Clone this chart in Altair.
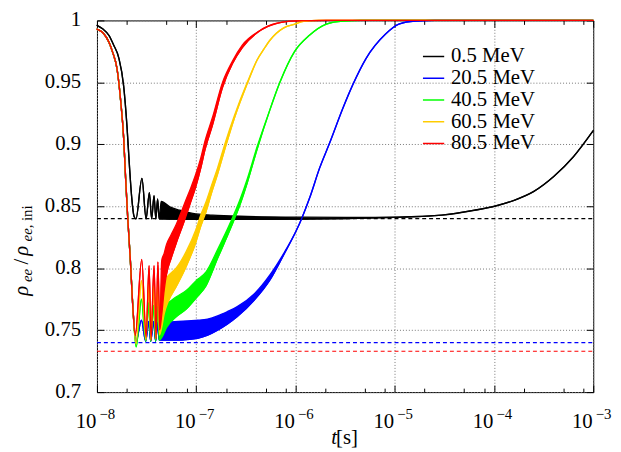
import altair as alt
import pandas as pd

W, H = 502, 376
FONT = "'Liberation Serif'"

series_names = ["0.5 MeV", "20.5 MeV", "40.5 MeV", "60.5 MeV", "80.5 MeV"]
series_colors = ["#000000", "#0000ff", "#00ff00", "#ffcc00", "#ff0000"]

# log10(t) positions, lower / upper envelope of the (fast-oscillating) curves
black_logt = [-8.0, -7.940, -7.880, -7.831, -7.781, -7.731, -7.698, -7.674, -7.651, -7.627,
              -7.607, -7.547, -7.505, -7.472, -7.449, -7.425, -7.407, -7.389, -7.373,
              -7.353, -7.266, -7.166, -7.034, -6.835, -6.486, -5.988, -5.490,
              -5.009, -4.527, -4.195, -3.996, -3.797, -3.598, -3.398, -3.199, -3.0]
black_lo = [0.996, 0.993, 0.988, 0.980, 0.970, 0.947, 0.915, 0.884, 0.858, 0.842,
            0.8398, 0.8725, 0.8398, 0.861, 0.8398, 0.8585, 0.8398, 0.856, 0.8398,
            0.8398, 0.8397, 0.8396, 0.8395, 0.8395, 0.8394, 0.8396, 0.8401,
            0.8411, 0.8428, 0.8468, 0.850, 0.8548, 0.862, 0.874, 0.890, 0.911]
black_hi = [None] * 19 + [0.854, 0.8495, 0.8468, 0.8442, 0.8428, 0.8418, 0.8412, 0.8410] + [None] * 9

descent_logt = [-8.0, -7.940, -7.880, -7.841, -7.798, -7.761, -7.731, -7.711, -7.691, -7.664, -7.638]
descent_val = [0.993, 0.990, 0.9825, 0.974, 0.961, 0.935, 0.905, 0.872, 0.842, 0.807, 0.768]

blue_logt = descent_logt + [-7.6066, -7.552, -7.509, -7.479, -7.459, -7.429, -7.409, -7.389, -7.373,
                            -7.348, -7.283, -7.183, -7.084, -6.984, -6.885, -6.785, -6.685, -6.586,
                            -6.419, -6.254, -6.118, -5.988, -5.938, -5.856, -5.756, -5.656, -5.523,
                            -5.423, -5.291, -5.092, -4.959, -4.793, -4.594, -3.0]
blue_lo = descent_val + [0.741, 0.758, 0.741, 0.757, 0.741, 0.757, 0.741, 0.756, 0.742,
                         0.742, 0.742, 0.742, 0.7425, 0.7435, 0.746, 0.750, 0.755, 0.761,
                         0.774, 0.791, 0.811, 0.831, 0.840, 0.857, 0.881, 0.901, 0.929,
                         0.948, 0.969, 0.989, 0.997, 0.9995, 1.0, 1.0]
blue_hi = [None] * 20 + [0.755, 0.7565, 0.757, 0.7575, 0.758, 0.759, 0.7615, 0.765, 0.769,
                         0.779, 0.795, 0.812] + [None] * 13

green_logt = descent_logt + [-7.6046, -7.552, -7.509, -7.479, -7.459, -7.429, -7.409, -7.389, -7.373,
                             -7.348, -7.300, -7.200, -7.101, -7.001, -6.901, -6.785, -6.655, -6.556,
                             -6.486, -6.387, -6.257, -6.157, -6.008, -5.859, -5.689, -5.520, -5.341, -3.0]
green_lo = descent_val + [0.7365, 0.775, 0.741, 0.772, 0.741, 0.770, 0.741, 0.769, 0.742,
                          0.744, 0.752, 0.761, 0.767, 0.776, 0.786, 0.808, 0.832, 0.852,
                          0.869, 0.896, 0.928, 0.950, 0.975, 0.988, 0.997, 0.9995, 1.0, 1.0]
green_hi = [None] * 20 + [0.768, 0.771, 0.777, 0.782, 0.790, 0.797, 0.815, 0.837, 0.856,
                          0.872, 0.898] + [None] * 8

yellow_logt = descent_logt + [-7.6066, -7.552, -7.507, -7.477, -7.457, -7.427, -7.407, -7.388, -7.370,
                              -7.348, -7.323, -7.283, -7.203, -7.104, -7.004, -6.954, -6.904, -6.845,
                              -6.785, -6.705, -6.616, -6.486, -6.387, -6.317, -6.257, -6.118, -6.008,
                              -5.918, -5.769, -3.0]
yellow_lo = descent_val + [0.739, 0.790, 0.742, 0.787, 0.742, 0.786, 0.743, 0.788, 0.746,
                           0.752, 0.763, 0.773, 0.785, 0.801, 0.821, 0.834, 0.845, 0.861,
                           0.876, 0.898, 0.921, 0.949, 0.968, 0.977, 0.984, 0.994, 0.997,
                           0.9993, 1.0, 1.0]
yellow_hi = [None] * 20 + [0.788, 0.790, 0.794, 0.800, 0.813, 0.831, 0.843, 0.853, 0.867,
                           0.881, 0.902, 0.923, 0.950] + [None] * 8

red_logt = descent_logt + [-7.6145, -7.549, -7.505, -7.475, -7.455, -7.425, -7.405, -7.386, -7.368,
                           -7.348, -7.323, -7.300, -7.253, -7.203, -7.153, -7.104, -7.054, -7.004,
                           -6.954, -6.914, -6.835, -6.735, -6.636, -6.536, -6.357, -6.187, -5.988,
                           -5.689, -3.0]
red_lo = descent_val + [0.7457, 0.807, 0.744, 0.802, 0.742, 0.802, 0.743, 0.805, 0.750,
                        0.762, 0.782, 0.795, 0.808, 0.820, 0.831, 0.842, 0.854, 0.866,
                        0.881, 0.895, 0.916, 0.946, 0.965, 0.978, 0.9918, 0.9977, 0.9996,
                        1.0, 1.0]
red_hi = [None] * 20 + [0.806, 0.812, 0.819, 0.827, 0.835, 0.845, 0.855, 0.865, 0.876,
                        0.889, 0.902, 0.922, 0.950, 0.967, 0.980] + [None] * 5

dash_levels = [0.840, 0.740, 0.733, 0.733, 0.733]
dash_opacity = [1, 1, 0, 0, 1]
t_range = [1e-8, 1e-3]

x_major = [1e-8, 1e-7, 1e-6, 1e-5, 1e-4, 1e-3]
x_base_labels = ["10", "10", "10", "10", "10", "10"]
x_exp_labels = ["\u22128", "\u22127", "\u22126", "\u22125", "\u22124", "\u22123"]
x_minor = [m * d for d in [1e-8, 1e-7, 1e-6, 1e-5, 1e-4] for m in (2, 5, 8)]
y_ticks = [0.7, 0.75, 0.8, 0.85, 0.9, 0.95, 1.0]
y_tick_labels = ["0.7", "0.75", "0.8", "0.85", "0.9", "0.95", "1"]


def frame(logt, lo, hi, name):
    hi2 = [l if h is None else h for l, h in zip(lo, hi)]
    assert len(logt) == len(lo) == len(hi), name
    return pd.DataFrame({"t": [10 ** v for v in logt], "lo": lo, "hi": hi2, "series": name})


curves = [
    frame(black_logt, black_lo, black_hi, series_names[0]),
    frame(blue_logt, blue_lo, blue_hi, series_names[1]),
    frame(green_logt, green_lo, green_hi, series_names[2]),
    frame(yellow_logt, yellow_lo, yellow_hi, series_names[3]),
    frame(red_logt, red_lo, red_hi, series_names[4]),
]

xscale = alt.Scale(type="log", domain=t_range, nice=False)
yscale = alt.Scale(domain=[0.7, 1.0], nice=False, zero=False)

GRID = dict(gridColor="#777777", gridDash=[1, 2], gridWidth=1, gridOpacity=1)


def tick_axis(orient, offset, values, size):
    return alt.Axis(orient=orient, offset=offset, values=values, labels=False, ticks=True,
                    tickSize=size, tickColor="black", tickWidth=1, domain=False, grid=False,
                    title=None)


x_grid_axis = alt.Axis(orient="bottom", values=x_major, labels=False, ticks=False, domain=False,
                       grid=True, title=None, **GRID)
y_grid_axis = alt.Axis(orient="left", values=y_ticks, labels=False, ticks=False, domain=False,
                       grid=True, title=None, **GRID)

legend_df = pd.concat(curves, ignore_index=True)
legend_layer = alt.Chart(legend_df).mark_line(strokeWidth=1.4, interpolate="monotone").encode(
    x=alt.X("t:Q", scale=xscale, axis=x_grid_axis),
    y=alt.Y("lo:Q", scale=yscale, axis=y_grid_axis),
    color=alt.Color("series:N", scale=alt.Scale(domain=series_names, range=series_colors),
                    legend=alt.Legend(orient="none", legendX=329, legendY=25, title=None,
                                      symbolType="stroke", symbolSize=462, symbolStrokeWidth=1.5,
                                      labelFont=FONT, labelFontSize=21, labelColor="black",
                                      labelOffset=6, rowPadding=0, padding=0)),
)

dash_x_axes = [None, tick_axis("top", -H, x_major, 7), tick_axis("top", -H, x_minor, 4),
               tick_axis("bottom", -H, x_major, 7), tick_axis("bottom", -H, x_minor, 4)]
dash_y_axes = [tick_axis("right", -W, y_ticks, 7), tick_axis("left", -W, y_ticks, 7), None, None, None]

dash_layers = []
for i, (lvl, col, op) in enumerate(zip(dash_levels, series_colors, dash_opacity)):
    ddf = pd.DataFrame({"x0": [t_range[0]], "x1": [t_range[1]], "y": [lvl]})
    dash_layers.append(
        alt.Chart(ddf).mark_rule(color=col, strokeDash=[4, 3], strokeWidth=1.2, opacity=op).encode(
            x=alt.X("x0:Q", scale=xscale, axis=dash_x_axes[i]),
            x2="x1:Q",
            y=alt.Y("y:Q", scale=yscale, axis=dash_y_axes[i]),
        )
    )

curve_layers = []
for df, col in zip(curves, series_colors):
    curve_layers.append(
        alt.Chart(df).mark_area(fill=col, stroke=col, strokeWidth=1.3, interpolate="monotone",
                                strokeJoin="round").encode(
            x=alt.X("t:Q", scale=xscale, axis=None),
            y=alt.Y("lo:Q", scale=yscale, axis=None),
            y2="hi:Q",
        )
    )

# tick labels as text marks
xlab_df = pd.DataFrame({"v": x_major, "base": x_base_labels, "exp": x_exp_labels})
ylab_df = pd.DataFrame({"v": y_ticks, "lab": y_tick_labels})
x_base_layer = alt.Chart(xlab_df).mark_text(
    font=FONT, fontSize=21, align="center", baseline="alphabetic", dx=-11, color="black"
).encode(x=alt.X("v:Q", scale=xscale, axis=None), y=alt.value(H + 36), text="base:N")
x_exp_layer = alt.Chart(xlab_df).mark_text(
    font=FONT, fontSize=15, align="center", baseline="alphabetic", dx=10.5, color="black"
).encode(x=alt.X("v:Q", scale=xscale, axis=None), y=alt.value(H + 27), text="exp:N")
y_lab_layer = alt.Chart(ylab_df).mark_text(
    font=FONT, fontSize=21, align="right", baseline="middle", dx=-16, color="black"
).encode(x=alt.value(0), y=alt.Y("v:Q", scale=yscale, axis=None), text="lab:N")

# axis titles as text pieces: t[s]  and  rho_ee / rho_ee,ini
x_title_text = ["t", "[s]"]
y_title_text = ["\u03c1", "ee", "/", "\u03c1", "ee,", "ini"]
title_one = pd.DataFrame({"k": [0]})


def title_piece(text, x, y, size, style, angle):
    return alt.Chart(title_one).mark_text(
        text=text, font=FONT, fontSize=size, fontStyle=style, angle=angle, align="center",
        baseline="alphabetic", color="black"
    ).encode(x=alt.value(x), y=alt.value(y))


title_layers = [
    title_piece(x_title_text[0], 240, H + 52, 21, "italic", 0),
    title_piece(x_title_text[1], 253, H + 52, 21, "normal", 0),
    title_piece(y_title_text[0], -70, 273.5, 21, "italic", 270),
    title_piece(y_title_text[1], -66, 258, 15, "italic", 270),
    title_piece(y_title_text[2], -70, 244, 21, "normal", 270),
    title_piece(y_title_text[3], -70, 233, 21, "italic", 270),
    title_piece(y_title_text[4], -66, 215, 15, "italic", 270),
    title_piece(y_title_text[5], -66, 195, 15, "normal", 270),
]

chart = alt.layer(legend_layer, *dash_layers, *curve_layers, x_base_layer, x_exp_layer,
                  y_lab_layer, *title_layers).resolve_axis(
    x="independent", y="independent"
).properties(
    width=W, height=H,
    padding={"left": 90, "top": 10, "right": 20, "bottom": 56},
    autosize=alt.AutoSizeParams(type="none"),
    background="white",
).configure_view(stroke="black", strokeWidth=1)

chart.save("out.html", embed_options={"renderer": "svg", "actions": False})
